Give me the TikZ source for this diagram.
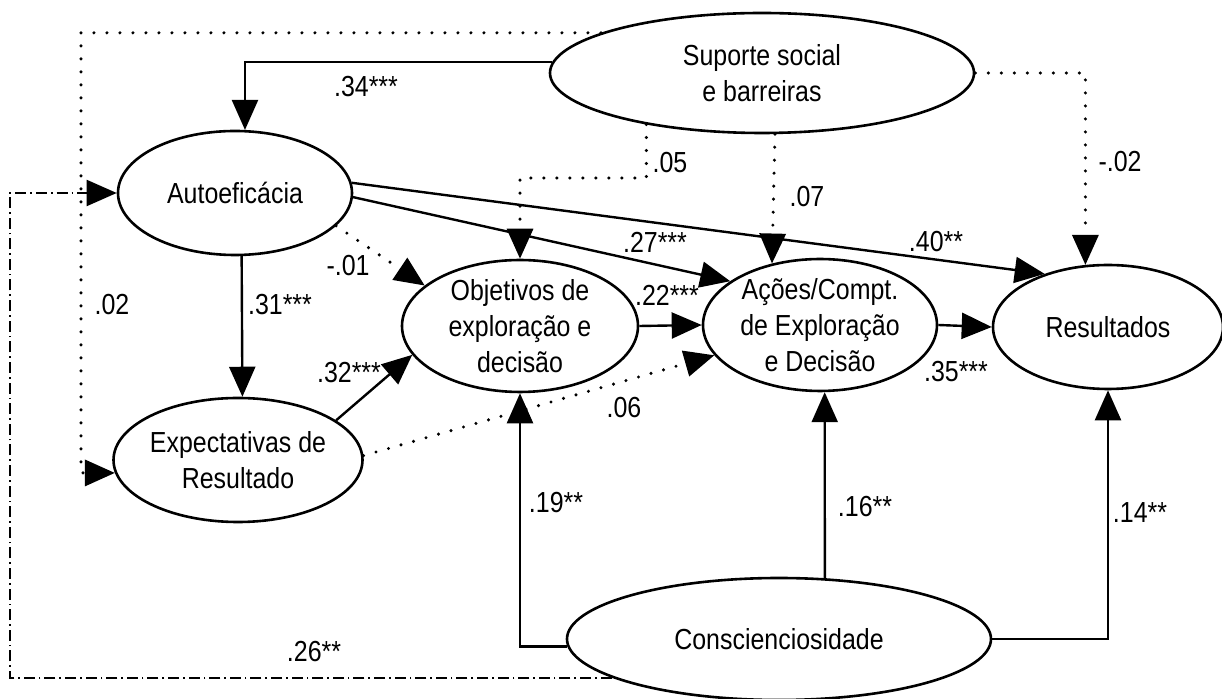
\documentclass[tikz,border=0pt]{standalone}
\usepackage{fontspec}
\setmainfont{Liberation Sans}[FakeStretch=0.86]
\usetikzlibrary{shapes.geometric,arrows.meta}
\begin{document}
\begin{tikzpicture}[x=0.5pt,y=-0.5pt,
  font=\fontsize{14.5pt}{18pt}\selectfont,
  latent/.style={ellipse,draw,line width=1.3pt,inner sep=0pt,align=center},
  tip/.style={-{Triangle[length=15pt,width=13pt]}},
  effect/.style={tip,line width=1.2pt},
  nonsig/.style={tip,line width=1.7pt,dash pattern=on 0pt off 6.5pt,line cap=round},
  direct/.style={tip,line width=1pt,dash pattern=on 5.5pt off 2pt on 0.8pt off 2pt},
  coef/.style={inner sep=0pt,anchor=center}]
\useasboundingbox (0,0) rectangle (1222,699);

% constructs
\node[latent,minimum width=212pt,minimum height=60pt] (sup) at (762,73) {Suporte social\\e barreiras};
\node[latent,minimum width=117pt,minimum height=62pt] (auto) at (235,193) {Autoefic\'acia};
\node[latent,minimum width=120pt,minimum height=62pt] (expt) at (238,460) {Expectativas de\\Resultado};
\node[latent,minimum width=118pt,minimum height=61pt] (obj) at (520,326) {Objetivos de\\explora\c{c}\~ao e\\decis\~ao};
\node[latent,minimum width=117pt,minimum height=62pt] (acoes) at (820,325) {A\c{c}\~oes/Compt.\\de Explora\c{c}\~ao\\e Decis\~ao};
\node[latent,minimum width=115pt,minimum height=62pt] (res) at (1108,327) {Resultados};
\node[latent,minimum width=212pt,minimum height=61pt] (con) at (779,639) {Conscienciosidade};

% bends of the routed paths
\coordinate (dl) at (81,0);
\coordinate (sl) at (0,178);
\coordinate (dd) at (10,0);

% support and barriers
\draw[effect] (sup.177.6) -| (auto.81.7);
\draw[nonsig] (sup.166) -| (dl |- expt.186) -- (expt.186);
\draw[nonsig] (sup.204) |- (sl -| obj.north) -- (obj.north);
\draw[nonsig] (sup.-78) -- (acoes.128);
\draw[nonsig] (sup.east) -| (res.110);

% self-efficacy
\draw[effect] (auto.5) -- (res.140);
\draw[effect] (auto.-2) -- (acoes.154);
\draw[nonsig] (auto.-18) -- (obj.157);
\draw[effect] (auto.-84) -- (expt.86);

% outcome expectations
\draw[effect] (expt.22) -- (obj.195);
\draw[nonsig] (expt.2) -- (acoes.196);

% goals, actions, outcomes
\draw[effect] (obj.east) -- (acoes.west);
\draw[effect] (acoes.east) -- (res.west);

% conscientiousness
\draw[effect] (con.182) -| (obj.south);
\draw[effect] (con.53) -- (acoes.-86);
\draw[effect] (con.east) -| (res.south);
\draw[direct] (con.193) -| (dd |- auto.west) -- (auto.west);

% path coefficients
\node[coef] (c34) at (366,87) {.34***};
\node[coef] (c02) at (112,305) {.02};
\node[coef] (c26) at (314,652) {.26**};
\node[coef] (c05) at (670,163) {.05};
\node[coef] (c07) at (807,197) {.07};
\node[coef] (cm02) at (1120,162) {-.02};
\node[coef] (c40) at (936,242) {.40**};
\node[coef] (c27) at (655,242) {.27***};
\node[coef] (cm01) at (348,266) {-.01};
\node[coef] (c31) at (280,305) {.31***};
\node[coef] (c32) at (349,373) {.32***};
\node[coef] (c06) at (624,408) {.06};
\node[coef] (c22) at (667,295) {.22***};
\node[coef] (c35) at (956,372) {.35***};
\node[coef] (c19) at (556,503) {.19**};
\node[coef] (c16) at (865,507) {.16**};
\node[coef] (c14) at (1140,513) {.14**};
\end{tikzpicture}
\end{document}
